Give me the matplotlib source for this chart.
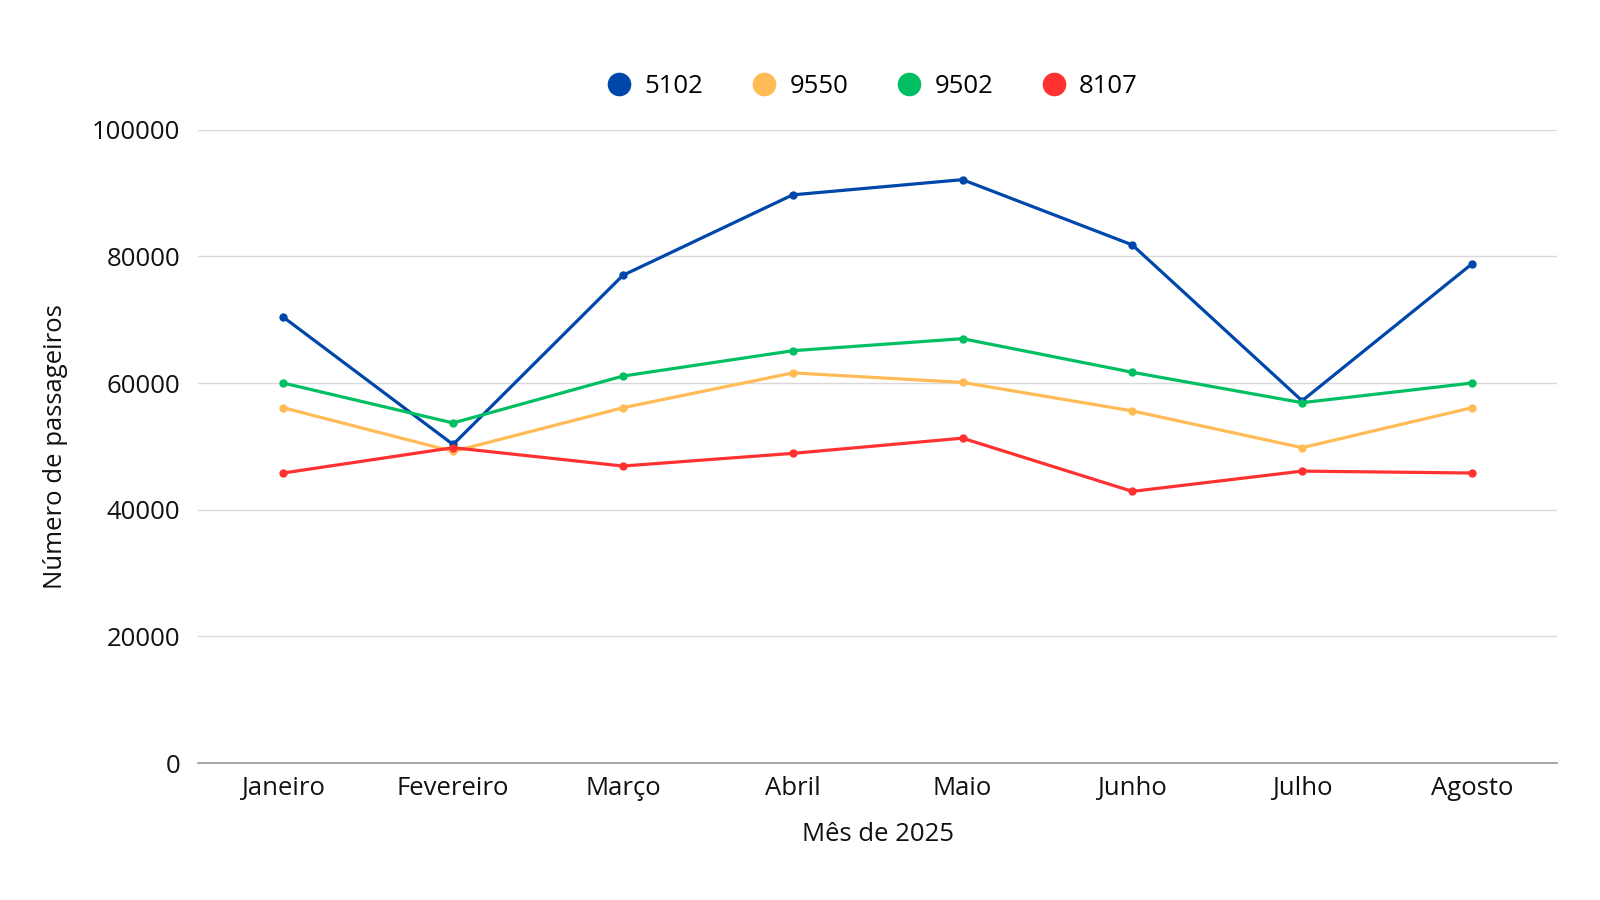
import matplotlib
matplotlib.use("Agg")
import matplotlib.pyplot as plt
from matplotlib.lines import Line2D

plt.rcParams['font.family'] = ['Open Sans', 'DejaVu Sans']

months = ["Janeiro", "Fevereiro", "Março", "Abril", "Maio", "Junho", "Julho", "Agosto"]
series_names = ["5102", "9550", "9502", "8107"]
s5102 = [70400, 50300, 77000, 89700, 92100, 81800, 57200, 78800]
s9550 = [56100, 49200, 56100, 61600, 60100, 55600, 49800, 56100]
s9502 = [60000, 53700, 61100, 65100, 67000, 61700, 56900, 60000]
s8107 = [45800, 49800, 46900, 48900, 51300, 42900, 46100, 45800]
yticks = [0, 20000, 40000, 60000, 80000, 100000]

colors = ["#0047AB", "#FFBB55", "#00BF63", "#FF3131"]
data = [s5102, s9550, s9502, s8107]

fig = plt.figure(figsize=(16, 9), dpi=100)
ax = fig.add_axes([0.124, 0.152, 0.849, 0.704])

x = list(range(len(months)))
for i, (vals, c) in enumerate(zip(data, colors)):
    ax.plot(x, vals, color=c, lw=2.3, marker='o', ms=5, zorder=3 + i, clip_on=False)

ax.set_xlim(-0.5, len(months) - 0.5)
ax.set_ylim(0, 100000)
ax.set_yticks(yticks)
ax.set_yticklabels([str(v) for v in yticks])
ax.set_xticks(x)
ax.set_xticklabels(months)
ax.tick_params(axis='both', length=0, labelsize=18.5, colors='#111111')
ax.tick_params(axis='y', pad=13)
ax.tick_params(axis='x', pad=9.5)
ax.grid(axis='y', color='#d9d9d9', lw=1)
ax.set_axisbelow(True)
for s in ['top', 'right', 'left']:
    ax.spines[s].set_visible(False)
ax.spines['bottom'].set_color('#999999')
ax.spines['bottom'].set_linewidth(1.2)

ax.set_xlabel("Mês de 2025", fontsize=18.5, color='#111111', labelpad=14.5)
ax.set_ylabel("Número de passageiros", fontsize=18.5, color='#111111', labelpad=17)

handles = [Line2D([0], [0], marker='o', color=c, markerfacecolor=c, markeredgecolor=c,
                  markeredgewidth=0, markersize=17, lw=0)
           for c in colors]
fig.legend(handles, series_names, loc='center', bbox_to_anchor=(0.545, 0.9035), ncol=4,
           frameon=False, fontsize=18.5, handlelength=1.0, handletextpad=0.5,
           columnspacing=1.85)

fig.savefig("out.png", dpi=100, facecolor='white')
